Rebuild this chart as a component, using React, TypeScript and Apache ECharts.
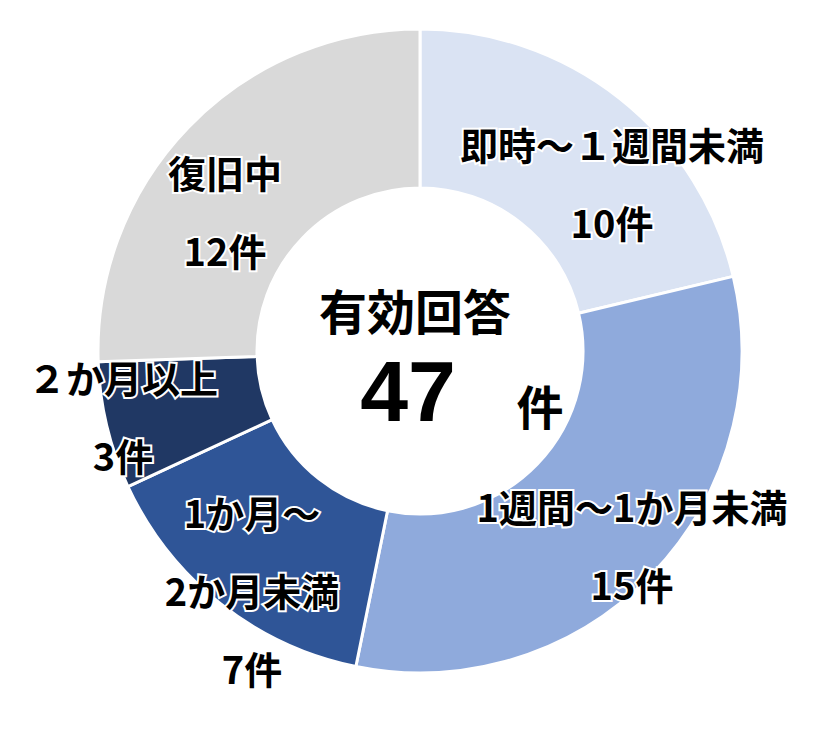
import React, { useEffect, useRef } from 'react';
import * as echarts from 'echarts';

const categories = ['即時～１週間未満', '1週間～1か月未満', '1か月～\n2か月未満', '２か月以上', '復旧中'];
const counts = [10, 15, 7, 3, 12];
const colors = ['#dae3f3', '#8faadc', '#2f5597', '#203864', '#d9d9d9'];
// label block centres (px)
const labelPos = [
  [612, 182],
  [632, 544],
  [252, 589],
  [123, 415],
  [225, 210],
];

const FONT = '"Noto Sans CJK JP", "Noto Sans", sans-serif';

const App: React.FC = () => {
  const chartRef = useRef<HTMLDivElement>(null);

  useEffect(() => {
    if (!chartRef.current) return;
    const chart = echarts.init(chartRef.current, null, { renderer: 'svg' });
    const total = counts.reduce((a, b) => a + b, 0);

    chart.setOption({
      animation: false,
      backgroundColor: '#fff',
      series: [
        {
          type: 'pie',
          center: [420, 351],
          radius: [163, 322],
          startAngle: 90,
          clockwise: true,
          itemStyle: { borderColor: '#fff', borderWidth: 3 },
          label: {
            show: true,
            position: 'inside',
            formatter: (p: any) => `${p.name}\n${p.value}件`,
            color: '#000',
            fontFamily: FONT,
            fontWeight: 'bold',
            fontSize: 38,
            lineHeight: 78,
            align: 'center',
            textBorderColor: '#fff',
            textBorderWidth: 4,
          },
          labelLine: { show: false },
          labelLayout: (params: any) => ({
            x: labelPos[params.dataIndex][0],
            y: labelPos[params.dataIndex][1],
            align: 'center',
            verticalAlign: 'middle',
          }),
          emphasis: { disabled: true },
          data: categories.map((name, i) => ({
            name,
            value: counts[i],
            itemStyle: { color: colors[i] },
          })),
        },
      ],
      graphic: [
        {
          type: 'text',
          x: 415,
          y: 309,
          style: {
            text: '有効回答',
            fill: '#000',
            font: `bold 48px ${FONT}`,
            align: 'center',
            verticalAlign: 'middle',
          },
        },
        {
          type: 'text',
          x: 408,
          y: 391,
          style: {
            text: String(total),
            fill: '#000',
            font: 'bold 86px "Liberation Sans", Arial, sans-serif',
            align: 'center',
            verticalAlign: 'middle',
          },
        },
        {
          type: 'text',
          x: 540,
          y: 404,
          style: {
            text: '件',
            fill: '#000',
            font: `bold 47px ${FONT}`,
            align: 'center',
            verticalAlign: 'middle',
          },
        },
      ],
    });

    return () => {
      chart.dispose();
    };
  }, []);

  return (
    <div
      ref={chartRef}
      style={{ position: 'fixed', left: 0, top: 0, width: '827px', height: '752px' }}
    />
  );
};

export default App;
